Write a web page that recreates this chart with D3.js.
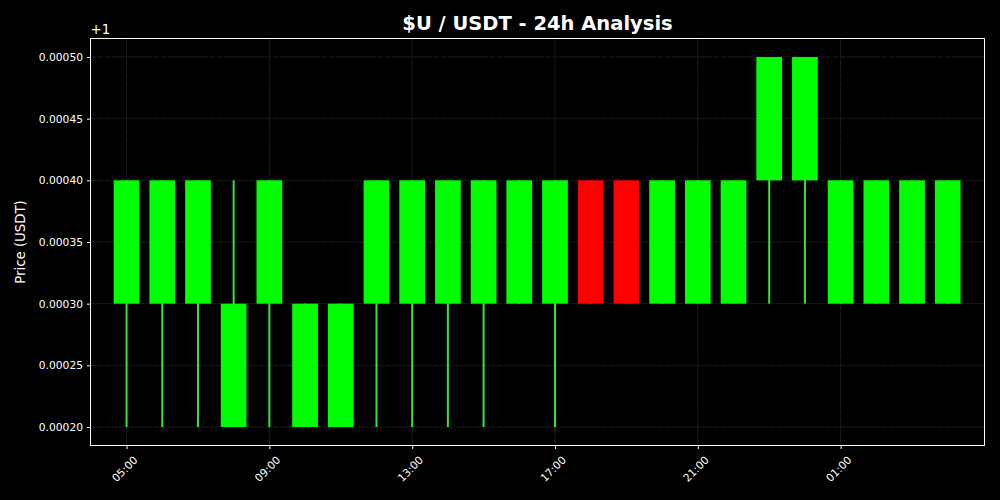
<!DOCTYPE html>
<html>
<head>
<meta charset="utf-8">
<script src="https://cdn.jsdelivr.net/npm/d3@7"></script>
<style>
  body { margin: 0; background: #000; }
  text { font-family: "DejaVu Sans", sans-serif; }
</style>
</head>
<body>
<script>
// hourly candles, prices shown as offset from 1
var hours  = ["05:00","06:00","07:00","08:00","09:00","10:00","11:00","12:00","13:00","14:00","15:00","16:00",
              "17:00","18:00","19:00","20:00","21:00","22:00","23:00","00:00","01:00","02:00","03:00","04:00"];
var opens  = [0.0003,0.0003,0.0003,0.0002,0.0003,0.0002,0.0002,0.0003,0.0003,0.0003,0.0003,0.0003,
              0.0003,0.0004,0.0004,0.0003,0.0003,0.0003,0.0004,0.0004,0.0003,0.0003,0.0003,0.0003];
var closes = [0.0004,0.0004,0.0004,0.0003,0.0004,0.0003,0.0003,0.0004,0.0004,0.0004,0.0004,0.0004,
              0.0004,0.0003,0.0003,0.0004,0.0004,0.0004,0.0005,0.0005,0.0004,0.0004,0.0004,0.0004];
var highs  = [0.0004,0.0004,0.0004,0.0004,0.0004,0.0003,0.0003,0.0004,0.0004,0.0004,0.0004,0.0004,
              0.0004,0.0004,0.0004,0.0004,0.0004,0.0004,0.0005,0.0005,0.0004,0.0004,0.0004,0.0004];
var lows   = [0.0002,0.0002,0.0002,0.0002,0.0002,0.0002,0.0002,0.0002,0.0002,0.0002,0.0002,0.0003,
              0.0002,0.0003,0.0003,0.0003,0.0003,0.0003,0.0003,0.0003,0.0003,0.0003,0.0003,0.0003];
var yTicks = [0.00020,0.00025,0.00030,0.00035,0.00040,0.00045,0.00050];
var xTickHours = [0,4,8,12,16,20]; // 05:00, 09:00, ... 01:00

var svgWidth = 1000, svgHeight = 500;
var margin = {top: 38.5, right: 15, bottom: 54, left: 90.5};
var width = 894;
var height = 407;

var svg = d3.select("body").append("svg")
            .attr("width", svgWidth)
            .attr("height", svgHeight)
            .style("background", "#000");

var chart = svg.append("g")
               .attr("transform", `translate(${margin.left}, ${margin.top})`);

var x = d3.scaleLinear().domain([-1.01, 24.03]).range([0, width]);
var y = d3.scaleLinear().domain([0.000185, 0.000515]).range([height, 0]);

// grid
chart.append("g").selectAll("line").data(yTicks).enter().append("line")
     .attr("x1", 0).attr("x2", width)
     .attr("y1", d => y(d)).attr("y2", d => y(d))
     .attr("stroke", "#1e1e1e").attr("stroke-width", 1).attr("stroke-dasharray", "6,1");
chart.append("g").selectAll("line").data(xTickHours).enter().append("line")
     .attr("y1", 0).attr("y2", height)
     .attr("x1", d => x(d)).attr("x2", d => x(d))
     .attr("stroke", "#1e1e1e").attr("stroke-width", 1).attr("stroke-dasharray", "6,1");

var data = hours.map((h, i) => ({h: h, i: i, o: opens[i], c: closes[i], hi: highs[i], lo: lows[i]}));
var bw = x(0.72) - x(0);

// wicks
chart.selectAll(".wick").data(data).enter().append("line")
     .attr("class", "wick")
     .attr("x1", d => x(d.i)).attr("x2", d => x(d.i))
     .attr("y1", d => y(d.hi)).attr("y2", d => y(d.lo))
     .attr("stroke", d => d.c >= d.o ? "#33e633" : "#e63333")
     .attr("stroke-width", 2);

// bodies
chart.selectAll(".body").data(data).enter().append("rect")
     .attr("class", "body")
     .attr("x", d => x(d.i) - bw / 2)
     .attr("width", bw)
     .attr("y", d => y(Math.max(d.o, d.c)))
     .attr("height", d => y(Math.min(d.o, d.c)) - y(Math.max(d.o, d.c)))
     .attr("fill", d => d.c >= d.o ? "#00ff00" : "#ff0000");

// axes
var yAxis = chart.append("g")
     .call(d3.axisLeft(y).tickValues(yTicks).tickFormat(d3.format(".5f")).tickSize(3.5).tickPadding(4));
var xAxis = chart.append("g")
     .attr("transform", `translate(0, ${height})`)
     .call(d3.axisBottom(x).tickValues(xTickHours).tickFormat(d => hours[d]).tickSize(3.5).tickPadding(3));

[yAxis, xAxis].forEach(function(a) {
  a.select(".domain").remove();
  a.selectAll("line").attr("stroke", "#fff");
  a.selectAll("text").attr("fill", "#fff").style("font-size", "10.7px");
});
xAxis.selectAll("text")
     .attr("text-anchor", "end")
     .attr("dy", "0.35em")
     .attr("transform", "translate(4, 8) rotate(-45)");

// frame
chart.append("rect")
     .attr("width", width).attr("height", height)
     .attr("fill", "none").attr("stroke", "#fff").attr("stroke-width", 1);

// offset text, title, label
chart.append("text").attr("x", 0).attr("y", -5)
     .attr("fill", "#fff").style("font-size", "13.3px").text("+1");

svg.append("text")
   .attr("x", margin.left + width / 2).attr("y", 30)
   .attr("text-anchor", "middle").attr("fill", "#fff")
   .style("font-size", "19.5px").style("font-weight", "bold")
   .text("$U / USDT - 24h Analysis");

svg.append("text")
   .attr("transform", "rotate(-90)")
   .attr("x", -(margin.top + height / 2)).attr("y", 25)
   .attr("text-anchor", "middle").attr("fill", "#fff")
   .style("font-size", "13.3px")
   .text("Price (USDT)");
</script>
</body>
</html>
